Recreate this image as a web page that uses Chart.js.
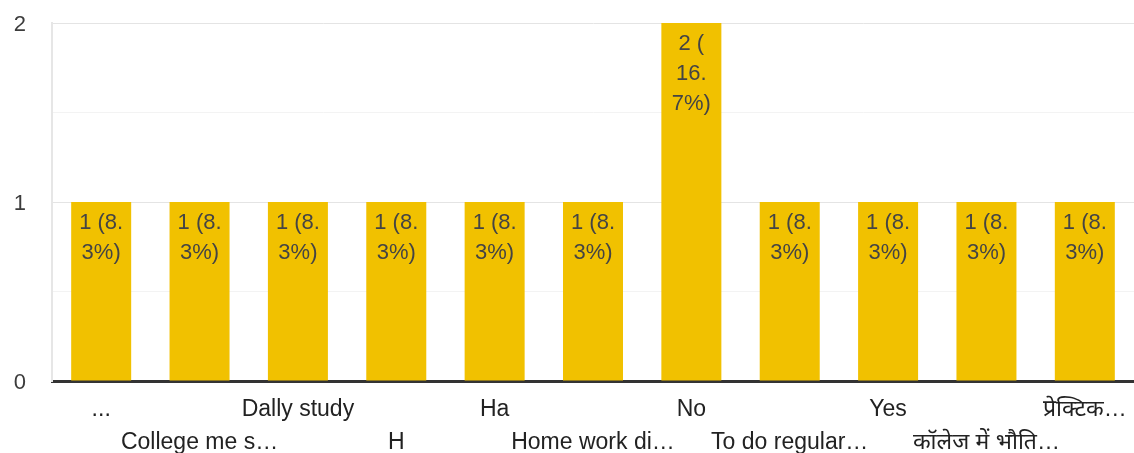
<!DOCTYPE html>
<html><head><meta charset="utf-8">
<script src="https://cdn.jsdelivr.net/npm/chart.js@4"></script>
<style>html,body{margin:0;padding:0;background:#fff}#wrap{width:1134px;height:453px}</style>
</head><body><div id="wrap"><canvas id="c"></canvas></div>
<script>
const categories = ["...", "College me s…", "Dally study", "H", "Ha", "Home work di…", "No", "To do regular…", "Yes", "कॉलेज में भौति…", "प्रेक्टिक…"];
const counts = [1, 1, 1, 1, 1, 1, 2, 1, 1, 1, 1];
const yTicks = [0, 1, 2];
const total = counts.reduce((a, b) => a + b, 0);

const FONT = "'Liberation Sans', Arial, 'Noto Sans', sans-serif";

function wrapText(ctx, text, maxW) {
  const tokens = text.match(/[^ (.]*[ (.]?/g).filter(t => t.length);
  const lines = [];
  let cur = '';
  for (const t of tokens) {
    const test = cur + t;
    if (cur && ctx.measureText(test.trimEnd()).width > maxW) {
      lines.push(cur.trimEnd());
      cur = t;
    } else cur = test;
  }
  if (cur) lines.push(cur.trimEnd());
  return lines;
}

const labelPlugin = {
  id: 'barLabels',
  afterDatasetsDraw(chart) {
    const ctx = chart.ctx;
    const meta = chart.getDatasetMeta(0);
    ctx.save();
    ctx.font = "22px " + FONT;
    ctx.fillStyle = '#444';
    ctx.textAlign = 'center';
    ctx.textBaseline = 'middle';
    meta.data.forEach((bar, i) => {
      const v = counts[i];
      const pct = (v / total * 100).toFixed(1);
      const txt = v + ' (' + pct + '%)';
      const lines = wrapText(ctx, txt, 50);
      lines.forEach((ln, k) => ctx.fillText(ln, bar.x, bar.y + 21 + k * 30));
    });
    ctx.restore();
  }
};

new Chart(document.getElementById('c'), {
  type: 'bar',
  data: {
    labels: categories,
    datasets: [{
      data: counts,
      backgroundColor: '#f1c100',
      borderWidth: 0,
      barPercentage: 0.61,
      categoryPercentage: 1.0
    }]
  },
  options: {
    responsive: true,
    maintainAspectRatio: false,
    animation: false,
    layout: { padding: { top: 23, right: 0, left: 0, bottom: 0 } },
    plugins: { legend: { display: false }, tooltip: { enabled: false } },
    scales: {
      x: {
        grid: { display: false, drawTicks: false },
        border: { display: true, color: '#333', width: 3 },
        ticks: {
          autoSkip: false, maxRotation: 0, minRotation: 0,
          color: '#222',
          padding: 13,
          font: { family: FONT, size: 23, lineHeight: 1.4 },
          callback: function (val, idx) {
            const l = categories[idx];
            return idx % 2 === 0 ? l : ['', l];
          }
        },
        afterFit: s => { s.height = 72; s.paddingLeft = 0; s.paddingRight = 0; }
      },
      y: {
        min: 0, max: 2,
        grid: {
          drawTicks: false,
          color: c => (c.tick && Number.isInteger(c.tick.value)) ? '#e4e4e4' : '#f3f3f3',
          lineWidth: 1
        },
        border: { display: true, color: '#e6e6e6', width: 2 },
        ticks: {
          stepSize: 0.5,
          color: '#3c3c3c',
          padding: 26,
          labelOffset: 2,
          font: { family: FONT, size: 22 },
          callback: v => yTicks.includes(v) ? String(v) : ''
        },
        afterFit: s => { s.width = 52; s.paddingTop = 0; s.paddingBottom = 0; }
      }
    }
  },
  plugins: [labelPlugin]
});
</script>
</body></html>
